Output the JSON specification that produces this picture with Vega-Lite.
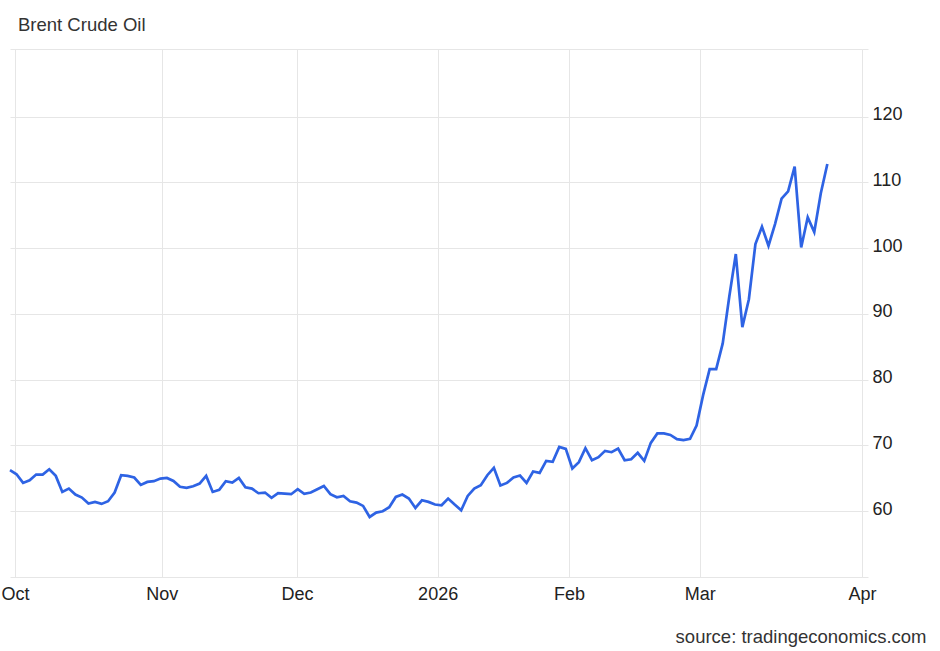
{
  "$schema": "https://vega.github.io/schema/vega-lite/v6.json",
  "autosize": {"type": "none"},
  "width": 852,
  "height": 528,
  "padding": {"left": 10, "top": 49, "right": 78, "bottom": 74},
  "background": "#ffffff",
  "config": {
    "view": {"stroke": null},
    "font": "Liberation Sans"
  },
  "title": {
    "text": "Brent Crude Oil",
    "anchor": "start",
    "frame": "group",
    "dx": 8,
    "offset": 14,
    "font": "Liberation Sans",
    "fontSize": 18.5,
    "fontWeight": "normal",
    "color": "#333333"
  },
  "data": {
    "values": [
      {"i": 0, "price": 66.24}, {"i": 1, "price": 65.63}, {"i": 2, "price": 64.31}, {"i": 3, "price": 64.72},
      {"i": 4, "price": 65.58}, {"i": 5, "price": 65.58}, {"i": 6, "price": 66.39}, {"i": 7, "price": 65.38},
      {"i": 8, "price": 62.94}, {"i": 9, "price": 63.45}, {"i": 10, "price": 62.54}, {"i": 11, "price": 62.08},
      {"i": 12, "price": 61.17}, {"i": 13, "price": 61.42}, {"i": 14, "price": 61.12}, {"i": 15, "price": 61.52},
      {"i": 16, "price": 62.84}, {"i": 17, "price": 65.48}, {"i": 18, "price": 65.38}, {"i": 19, "price": 65.13},
      {"i": 20, "price": 64.0}, {"i": 21, "price": 64.46}, {"i": 22, "price": 64.57}, {"i": 23, "price": 64.97},
      {"i": 24, "price": 65.07}, {"i": 25, "price": 64.6}, {"i": 26, "price": 63.71}, {"i": 27, "price": 63.55},
      {"i": 28, "price": 63.81}, {"i": 29, "price": 64.21}, {"i": 30, "price": 65.38}, {"i": 31, "price": 62.94},
      {"i": 32, "price": 63.25}, {"i": 33, "price": 64.57}, {"i": 34, "price": 64.37}, {"i": 35, "price": 65.07},
      {"i": 36, "price": 63.65}, {"i": 37, "price": 63.45}, {"i": 38, "price": 62.74}, {"i": 39, "price": 62.84},
      {"i": 40, "price": 62.03}, {"i": 41, "price": 62.74}, {"i": 42, "price": 62.69}, {"i": 43, "price": 62.59},
      {"i": 44, "price": 63.35}, {"i": 45, "price": 62.64}, {"i": 46, "price": 62.84}, {"i": 47, "price": 63.35},
      {"i": 48, "price": 63.85}, {"i": 49, "price": 62.6}, {"i": 50, "price": 62.13}, {"i": 51, "price": 62.33},
      {"i": 52, "price": 61.52}, {"i": 53, "price": 61.32}, {"i": 54, "price": 60.81}, {"i": 55, "price": 59.13},
      {"i": 56, "price": 59.8}, {"i": 57, "price": 60.0}, {"i": 58, "price": 60.61}, {"i": 59, "price": 62.18},
      {"i": 60, "price": 62.54}, {"i": 61, "price": 61.93}, {"i": 62, "price": 60.5}, {"i": 63, "price": 61.67},
      {"i": 64, "price": 61.42}, {"i": 65, "price": 61.02}, {"i": 66, "price": 60.91}, {"i": 67, "price": 61.93},
      {"i": 68, "price": 61.02}, {"i": 69, "price": 60.15}, {"i": 70, "price": 62.33}, {"i": 71, "price": 63.45},
      {"i": 72, "price": 63.96}, {"i": 73, "price": 65.48}, {"i": 74, "price": 66.6}, {"i": 75, "price": 63.93},
      {"i": 76, "price": 64.31}, {"i": 77, "price": 65.13}, {"i": 78, "price": 65.43}, {"i": 79, "price": 64.31},
      {"i": 80, "price": 66.04}, {"i": 81, "price": 65.83}, {"i": 82, "price": 67.66}, {"i": 83, "price": 67.51},
      {"i": 84, "price": 69.79}, {"i": 85, "price": 69.49}, {"i": 86, "price": 66.5}, {"i": 87, "price": 67.46},
      {"i": 88, "price": 69.59}, {"i": 89, "price": 67.76}, {"i": 90, "price": 68.22}, {"i": 91, "price": 69.18},
      {"i": 92, "price": 68.98}, {"i": 93, "price": 69.54}, {"i": 94, "price": 67.76}, {"i": 95, "price": 67.91},
      {"i": 96, "price": 68.88}, {"i": 97, "price": 67.66}, {"i": 98, "price": 70.4}, {"i": 99, "price": 71.83},
      {"i": 100, "price": 71.83}, {"i": 101, "price": 71.61}, {"i": 102, "price": 70.96}, {"i": 103, "price": 70.81},
      {"i": 104, "price": 71.0}, {"i": 105, "price": 73.04}, {"i": 106, "price": 77.66}, {"i": 107, "price": 81.61},
      {"i": 108, "price": 81.61}, {"i": 109, "price": 85.52}, {"i": 110, "price": 92.62}, {"i": 111, "price": 99.12},
      {"i": 112, "price": 88.0}, {"i": 113, "price": 92.25}, {"i": 114, "price": 100.64}, {"i": 115, "price": 103.28},
      {"i": 116, "price": 100.38}, {"i": 117, "price": 103.68}, {"i": 118, "price": 107.54}, {"i": 119, "price": 108.66},
      {"i": 120, "price": 112.4}, {"i": 121, "price": 100.12}, {"i": 122, "price": 104.7}, {"i": 123, "price": 102.46},
      {"i": 124, "price": 108.36}, {"i": 125, "price": 112.82}
    ]
  },
  "mark": {"type": "line", "color": "#2e63e4", "strokeWidth": 2.7, "interpolate": "linear"},
  "encoding": {
    "x": {
      "field": "i",
      "type": "quantitative",
      "scale": {"domain": [0, 130.3], "nice": false, "zero": false},
      "axis": {
        "values": [0.76, 23.2, 43.9, 65.4, 85.5, 105.5, 130.3],
        "labelExpr": "datum.value < 10 ? 'Oct' : datum.value < 30 ? 'Nov' : datum.value < 50 ? 'Dec' : datum.value < 70 ? '2026' : datum.value < 90 ? 'Feb' : datum.value < 120 ? 'Mar' : 'Apr'",
        "domain": false,
        "ticks": false,
        "tickSize": 0,
        "grid": true,
        "gridColor": "#e6e6e6",
        "gridWidth": 1,
        "labelFont": "Liberation Sans",
        "labelFontSize": 18,
        "labelColor": "#222222",
        "labelBaseline": "alphabetic",
        "labelPadding": 22,
        "labelFlush": false,
        "labelBound": false,
        "labelOverlap": false,
        "title": "source: tradingeconomics.com",
        "titleFont": "Liberation Sans",
        "titleFontSize": 18.5,
        "titleFontWeight": "normal",
        "titleColor": "#333333",
        "titleAlign": "right",
        "titleAnchor": "end",
        "titleBaseline": "alphabetic",
        "titleX": 916,
        "titleY": 65
      }
    },
    "y": {
      "field": "price",
      "type": "quantitative",
      "scale": {"domain": [50, 130.3], "nice": false, "zero": false},
      "axis": {
        "orient": "right",
        "values": [50, 60, 70, 80, 90, 100, 110, 120, 130.3],
        "labelExpr": "datum.value < 55 || datum.value > 125 ? '' : datum.label",
        "grid": true,
        "gridColor": "#e6e6e6",
        "gridWidth": 1,
        "domain": true,
        "domainColor": "#e6e6e6",
        "domainWidth": 1,
        "ticks": true,
        "tickColor": "#e6e6e6",
        "tickSize": 6,
        "labelPadding": 4,
        "labelOffset": -2,
        "labelFont": "Liberation Sans",
        "labelFontSize": 18,
        "labelColor": "#222222",
        "title": null
      }
    }
  }
}
